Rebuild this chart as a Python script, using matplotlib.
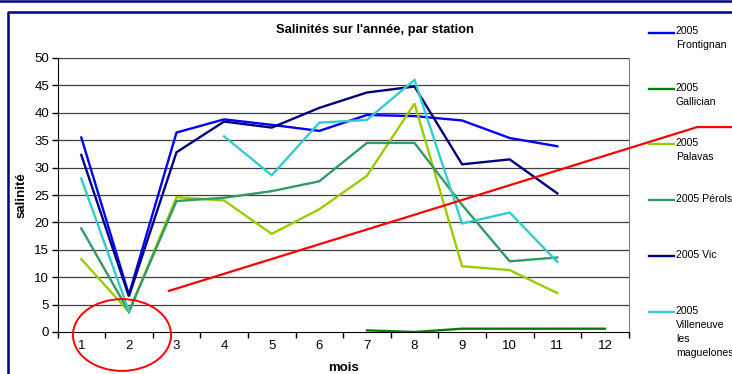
import matplotlib.pyplot as plt
from matplotlib.lines import Line2D
from matplotlib.patches import Ellipse
import numpy as np

plt.rcParams['font.family'] = ['Liberation Sans', 'DejaVu Sans']

months = np.arange(1, 13)
month_labels = [str(m) for m in months]

# salinité par station, None = pas de mesure
frontignan = [35.5, 6.8, 36.4, 38.8, 37.8, 36.7, 39.6, 39.4, 38.6, 35.4, 33.9, None]
gallician = [None, None, None, None, None, None, 0.3, 0.0, 0.6, 0.6, 0.6, 0.6]
palavas = [13.3, 3.7, 24.6, 24.0, 17.9, 22.4, 28.5, 41.7, 12.0, 11.3, 7.1, None]
perols = [18.9, 3.7, 23.9, 24.5, 25.7, 27.5, 34.5, 34.5, 23.2, 12.9, 13.6, None]
vic = [32.3, 6.5, 32.8, 38.4, 37.3, 40.9, 43.7, 44.8, 30.6, 31.5, 25.3, None]
villeneuve = [28.0, 3.8, None, 35.7, 28.6, 38.2, 38.7, 46.0, 19.8, 21.8, 12.8, None]

series_names = ['2005\nFrontignan', '2005\nGallician', '2005\nPalavas',
                '2005 Pérols', '2005 Vic', '2005\nVilleneuve\nles\nmaguelones']
series_data = [frontignan, gallician, palavas, perols, vic, villeneuve]
series_colors = ['#0000FF', '#008000', '#99CC00', '#339966', '#000080', '#33CCCC']

# trait rouge et ellipse ajoutés à la main sur le graphique
red_line_x = [2.84, 13.94, 14.67]
red_line_y = [7.5, 37.4, 37.4]


def plot_station(ax, values, color):
    """
    Draws one station, leaving gaps where a month has no value.
    """
    y = np.array([np.nan if v is None else v for v in values], dtype=float)
    ax.plot(months, y, color=color, lw=1.7, solid_joinstyle='miter', zorder=3)


fig = plt.figure(figsize=(7.32, 3.74), dpi=100)
ax = fig.add_axes([57.5 / 732, 1 - 332 / 374, (628.7 - 57.5) / 732, (332 - 58) / 374])

for values, color in zip(series_data, series_colors):
    plot_station(ax, values, color)

ax.set_xlim(0.5, 12.5)
ax.set_ylim(0, 50)
ax.set_yticks(np.arange(0, 51, 5))
ax.set_xticks(months)
ax.set_xticklabels(month_labels)
ax.set_xticks(np.arange(0.5, 12.6, 1), minor=True)
ax.tick_params(axis='x', which='major', length=0, labelsize=9.5, pad=6, colors='#000000')
ax.tick_params(axis='x', which='minor', length=4, width=1, color='#000000', direction='out')
ax.tick_params(axis='y', length=4, width=1, labelsize=9.5, pad=2, direction='out')

for yv in np.arange(5, 51, 5):
    ax.axhline(yv, color='#404040', lw=0.9, zorder=1)

ax.spines['top'].set_visible(False)
ax.spines['right'].set_color('#808080')
ax.spines['left'].set_color('#000000')
ax.spines['bottom'].set_color('#000000')

ax.set_xlabel('mois', fontsize=9.5, fontweight='bold', labelpad=0)
ax.xaxis.set_label_coords(0.5, -0.11)
ax.set_ylabel('salinité', fontsize=9.5, fontweight='bold', labelpad=5)

fig.text(374.5 / 732, 1 - 30 / 374, "Salinités sur l'année, par station",
         ha='center', va='center', fontsize=9.4, fontweight='bold')

# annotations rouges
ax.plot(red_line_x, red_line_y, color='#FF0000', lw=1.6, clip_on=False, zorder=4)
ax.add_patch(Ellipse((1.855, -0.55), 2.06, 13.1, fill=False, edgecolor='#FF0000',
                     lw=1.4, clip_on=False, zorder=4))

# legend drawn by hand so the key line sits on the first text line
legend_y = [33, 89, 144, 200, 256, 312]
for name, color, ypx in zip(series_names, series_colors, legend_y):
    yf = 1 - ypx / 374
    fig.add_artist(Line2D([649 / 732, 674 / 732], [yf, yf], color=color, lw=1.7))
    fig.text(676 / 732, yf + 6.5 / 374, name, ha='left', va='top', fontsize=7.6,
             linespacing=1.5, color='#000000')

# cadres bleus autour du graphique
fig.add_artist(Line2D([0, 1], [1 - 1 / 374, 1 - 1 / 374], color='#000080', lw=1.8))
fig.add_artist(Line2D([8 / 732, 8 / 732, 1], [0, 1 - 12 / 374, 1 - 12 / 374],
                      color='#000080', lw=1.8))

fig.savefig('out.png', dpi=100)
